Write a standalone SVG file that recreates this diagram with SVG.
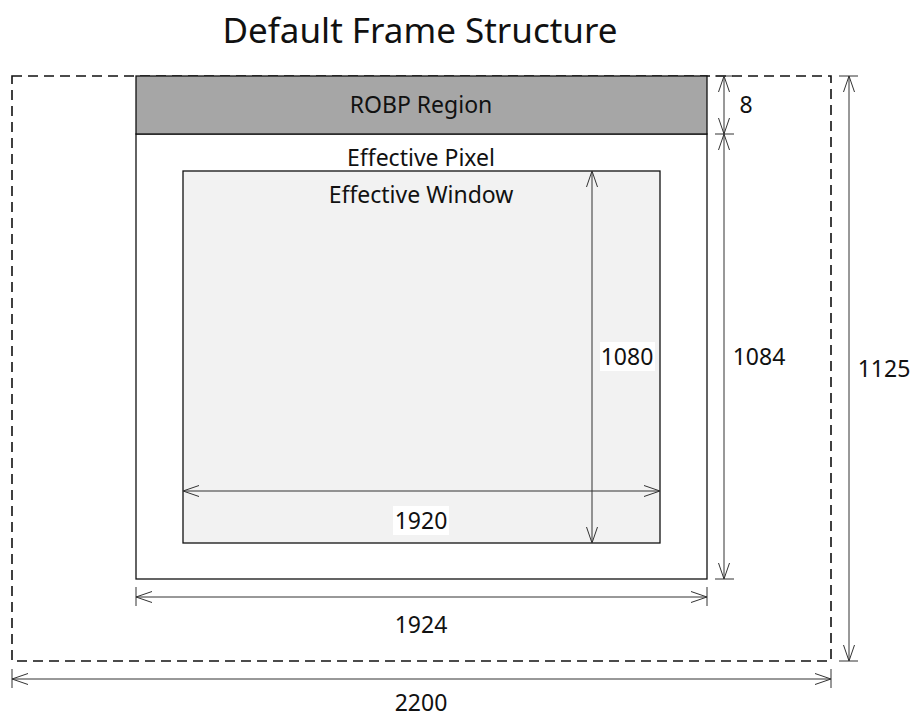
<svg xmlns="http://www.w3.org/2000/svg" width="913" height="719" viewBox="0 0 913 719">
<style>
text{font-family:"Noto Sans","Open Sans","DejaVu Sans",sans-serif;fill:#111;text-anchor:middle;dominant-baseline:central}
.lbl{font-size:23px}
.dim{stroke:#333;stroke-width:1;fill:none}
.tick{stroke:#333;stroke-width:1}
.box{stroke:#111;stroke-width:1.3}
</style>
<defs>
<marker id="ah" markerUnits="userSpaceOnUse" markerWidth="20" markerHeight="14" refX="0" refY="0" viewBox="-17 -7 19 14" orient="auto-start-reverse">
<path d="M-16,-5.5 L0,0 L-16,5.5" fill="none" stroke="#333" stroke-width="1"/>
</marker>
</defs>
<rect width="913" height="719" fill="#fff"/>
<text x="420" y="29" style="font-size:35px">Default Frame Structure</text>
<g id="frame">
<rect x="12" y="76" width="819" height="585" fill="none" stroke="#111" stroke-width="1.6" stroke-dasharray="10,6"/>
</g>
<g id="effective-pixel">
<rect class="box" x="136" y="134" width="571" height="445" fill="#fff"/>
<text class="lbl" x="421" y="157">Effective Pixel</text>
</g>
<g id="robp">
<rect class="box" x="136" y="76" width="571" height="58" fill="#a6a6a6"/>
<text class="lbl" x="421" y="104">ROBP Region</text>
</g>
<g id="effective-window">
<rect class="box" x="183" y="171" width="477" height="372" fill="#f2f2f2"/>
<text class="lbl" x="421" y="194">Effective Window</text>
</g>
<g id="connectors">
<line class="dim" x1="592" y1="171" x2="592" y2="543" marker-start="url(#ah)" marker-end="url(#ah)"/>
<line class="dim" x1="183" y1="491" x2="660" y2="491" marker-start="url(#ah)" marker-end="url(#ah)"/>
<line class="dim" x1="136" y1="597" x2="707" y2="597" marker-start="url(#ah)" marker-end="url(#ah)"/>
<line class="tick" x1="136" y1="587" x2="136" y2="606"/>
<line class="tick" x1="707" y1="587" x2="707" y2="606"/>
<line class="dim" x1="12" y1="679" x2="831" y2="679" marker-start="url(#ah)" marker-end="url(#ah)"/>
<line class="tick" x1="12" y1="669" x2="12" y2="688"/>
<line class="tick" x1="831" y1="669" x2="831" y2="688"/>
<line class="dim" x1="724" y1="76" x2="724" y2="134" marker-start="url(#ah)" marker-end="url(#ah)"/>
<line class="dim" x1="724" y1="134" x2="724" y2="579" marker-start="url(#ah)" marker-end="url(#ah)"/>
<line class="tick" x1="715" y1="76" x2="733" y2="76"/>
<line class="tick" x1="715" y1="134" x2="734" y2="134"/>
<line class="tick" x1="715" y1="579" x2="734" y2="579"/>
<line class="dim" x1="849" y1="76" x2="849" y2="661" marker-start="url(#ah)" marker-end="url(#ah)"/>
<line class="tick" x1="839" y1="76" x2="858" y2="76"/>
<line class="tick" x1="839" y1="661" x2="858" y2="661"/>
</g>
<g id="labels">
<rect x="600" y="342" width="55" height="29" fill="#fff"/>
<text class="lbl" x="627" y="356">1080</text>
<rect x="393" y="506" width="56" height="29" fill="#fff"/>
<text class="lbl" x="421" y="520">1920</text>
<text class="lbl" x="421" y="624">1924</text>
<text class="lbl" x="421" y="702">2200</text>
<text class="lbl" x="746" y="104">8</text>
<text class="lbl" x="759" y="356">1084</text>
<text class="lbl" x="884" y="368">1125</text>
</g>
</svg>
